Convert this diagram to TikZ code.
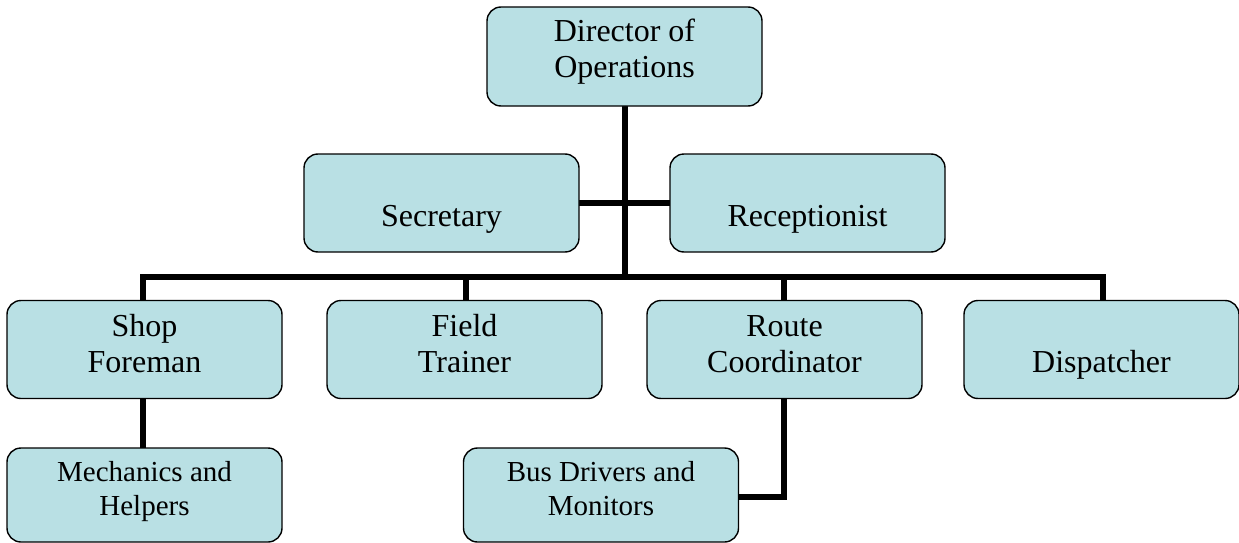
\documentclass[tikz,border=0pt]{standalone}
\usepackage{fontspec}
\setmainfont{Liberation Serif}
\definecolor{boxfill}{RGB}{185,224,228}
\tikzset{
  orgbox/.style={draw=black, line width=1.4pt, fill=boxfill, rounded corners=14pt,
    minimum width=275pt, minimum height=98pt, inner sep=0pt},
  smallbox/.style={orgbox, minimum height=94pt},
  bigtext/.style={align=center, inner sep=0pt, font=\fontsize{32}{36}\selectfont},
  smalltext/.style={align=center, inner sep=0pt, font=\fontsize{29}{34}\selectfont},
  conn/.style={line width=6pt, line join=miter, line cap=butt}
}
\newcommand{\twoline}[2]{\strut #1\strut\\\strut #2\strut}
\begin{document}
\begin{tikzpicture}[x=1pt,y=-1pt]
\useasboundingbox (0,0) rectangle (1239,543);
% connectors, drawn first so the boxes cover their ends
\coordinate (hub) at (624.5,277);
\draw[conn] (441.5,203) -- (807.5,203);
\draw[conn] (624.5,56.5) -- (hub);
\draw[conn, line cap=rect] (143,340) |- (hub) -| (1103,340);
\draw[conn] (466,340) -- (466,277);
\draw[conn] (784,340) -- (784,277);
\draw[conn] (143,349.5) -- (143,495);
\draw[conn] (784,349.5) |- (601,497);
% first two levels
\node[orgbox, minimum height=99pt] (dir) at (624.5,56.5) {};
\node[orgbox] (sec) at (441.5,203) {};
\node[orgbox] (rec) at (807.5,203) {};
% departments
\node[orgbox] (shop) at (144.5,349.5) {};
\node[orgbox] (field) at (464.5,349.5) {};
\node[orgbox] (route) at (784.5,349.5) {};
\node[orgbox] (disp) at (1101.5,349.5) {};
% staff
\node[smallbox] (mech) at (144.5,495) {};
\node[smallbox] (bus) at (601,495) {};
% labels
\node[bigtext, yshift=3.7pt] (dirT) at (dir) {\twoline{Director of}{Operations}};
\node[bigtext, yshift=2pt] (secT) at (sec) {\twoline{}{Secretary}};
\node[bigtext, yshift=2pt] (recT) at (rec) {\twoline{}{Receptionist}};
\node[bigtext, yshift=2.5pt] (shopT) at (shop) {\twoline{Shop}{Foreman}};
\node[bigtext, yshift=2.5pt] (fieldT) at (field) {\twoline{Field}{Trainer}};
\node[bigtext, yshift=2.5pt] (routeT) at (route) {\twoline{Route}{Coordinator}};
\node[bigtext, yshift=2pt] (dispT) at (disp) {\twoline{}{Dispatcher}};
\node[smalltext, yshift=3.8pt] (mechT) at (mech) {\twoline{Mechanics and}{Helpers}};
\node[smalltext, yshift=3.8pt] (busT) at (bus) {\twoline{Bus Drivers and}{Monitors}};
\end{tikzpicture}
\end{document}
